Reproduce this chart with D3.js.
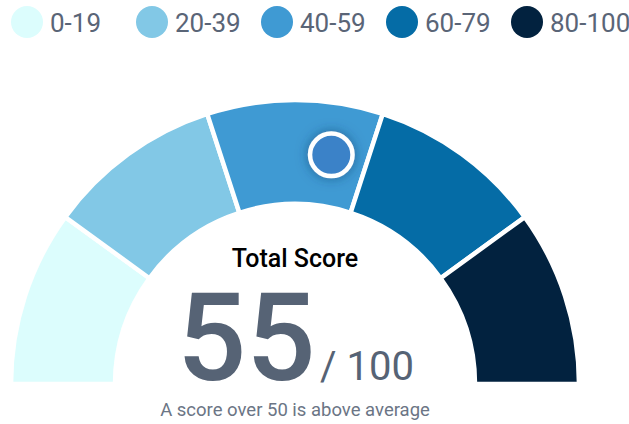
<!DOCTYPE html>
<html>
<head>
<meta charset="utf-8">
<title>Score gauge</title>
<script src="https://d3js.org/d3.v7.min.js"></script>
<style>
  body { margin: 0; background: #fff; font-family: Roboto, "Noto Sans", sans-serif; }
  svg text { font-family: Roboto, "Noto Sans", sans-serif; }
</style>
</head>
<body>
<div id="chart"></div>
<script>
var bands = ["0-19", "20-39", "40-59", "60-79", "80-100"];
var bandStarts = [0, 20, 40, 60, 80];
var bandEnds = [20, 40, 60, 80, 100];
var colors = ["#dcfdfd", "#82c8e6", "#3f9ad3", "#056ca6", "#02223f"];
var score = 55;
var maxScore = 100;
var title = "Total Score";
var note = "A score over 50 is above average";

var width = 629, height = 424;
var cx = 295, cy = 384;
var outerR = 284, innerR = 180;

var svg = d3.select("#chart").append("svg")
    .attr("width", width)
    .attr("height", height);

var defs = svg.append("defs");
var f = defs.append("filter").attr("id", "glow")
    .attr("x", "-80%").attr("y", "-80%").attr("width", "260%").attr("height", "260%");
f.append("feGaussianBlur").attr("in", "SourceAlpha").attr("stdDeviation", 6).attr("result", "b");
f.append("feFlood").attr("flood-color", "#1a3a66").attr("flood-opacity", 0.55);
f.append("feComposite").attr("in2", "b").attr("operator", "in").attr("result", "s");
var m = f.append("feMerge");
m.append("feMergeNode").attr("in", "s");
m.append("feMergeNode").attr("in", "SourceGraphic");

// legend
var legend = svg.append("g");
var lx = d3.scalePoint().domain(bands).range([27, 527]);
var item = legend.selectAll("g").data(bands).enter().append("g")
    .attr("transform", function(d) { return "translate(" + lx(d) + ",22)"; });
item.append("circle")
    .attr("r", 16)
    .attr("fill", function(d, i) { return colors[i]; });
item.append("text")
    .attr("x", 23).attr("y", 9.5)
    .attr("fill", "#5a6577")
    .style("font-size", "26px")
    .text(function(d) { return d; });

// gauge
var angle = d3.scaleLinear().domain([0, maxScore]).range([-Math.PI / 2, Math.PI / 2]);
var arc = d3.arc().innerRadius(innerR).outerRadius(outerR);

var g = svg.append("g").attr("transform", "translate(" + cx + "," + cy + ")");
g.selectAll("path").data(bands).enter().append("path")
    .attr("d", function(d, i) {
      return arc({ startAngle: angle(bandStarts[i]), endAngle: angle(bandEnds[i]) });
    })
    .attr("fill", function(d, i) { return colors[i]; })
    .attr("stroke", "#fff")
    .attr("stroke-width", 4.5)
    .attr("stroke-linejoin", "miter");

// marker
var a = angle(score);
var mr = (outerR + innerR) / 2;
g.append("circle")
    .attr("cx", mr * Math.sin(a))
    .attr("cy", -mr * Math.cos(a))
    .attr("r", 21.25)
    .attr("fill", "#3a82c8")
    .attr("stroke", "#fff")
    .attr("stroke-width", 4.5)
    .attr("filter", "url(#glow)");

// center text
svg.append("text")
    .attr("x", cx).attr("y", 267)
    .attr("text-anchor", "middle")
    .attr("fill", "#000")
    .style("font-size", "25px")
    .style("font-weight", 500)
    .text(title);

svg.append("text")
    .attr("x", 177).attr("y", 380)
    .attr("fill", "#566375")
    .style("font-size", "122px")
    .style("font-weight", 500)
    .text(score);

svg.append("text")
    .attr("x", 320).attr("y", 380)
    .attr("fill", "#566375")
    .style("font-size", "40px")
    .text("/ " + maxScore);

svg.append("text")
    .attr("x", cx).attr("y", 416)
    .attr("text-anchor", "middle")
    .attr("fill", "#6b7585")
    .style("font-size", "18.5px")
    .text(note);
</script>
</body>
</html>
